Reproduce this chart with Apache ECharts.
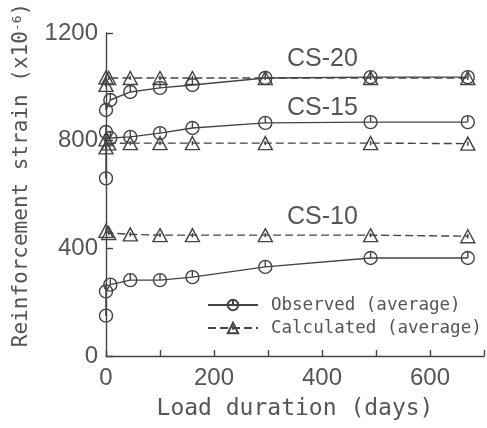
<!DOCTYPE html>
<html><head><meta charset="utf-8">
<script src="https://cdn.jsdelivr.net/npm/echarts@6/dist/echarts.min.js"></script>
<style>html,body{margin:0;padding:0;background:#fff}#c{width:487px;height:428px}</style>
</head><body><div id="c"></div>
<script>
// Data (days, strain x10^-6)
const obs10X = [0, 0, 8, 45, 100, 160, 295, 490, 670];
const obs10Y = [150, 240, 265, 282, 282, 293, 331, 364, 364];
const cal10X = [0, 5, 45, 100, 160, 295, 490, 670];
const cal10Y = [465, 457, 452, 449, 449, 449, 449, 445];
const obs15X = [0, 0, 8, 45, 100, 160, 295, 490, 670];
const obs15Y = [660, 832, 810, 814, 828, 847, 866, 869, 869];
const cal15X = [0, 0, 5, 45, 100, 160, 295, 490, 670];
const cal15Y = [775, 805, 790, 791, 791, 791, 791, 791, 789];
const obs20X = [0, 8, 45, 100, 160, 295, 490, 670];
const obs20Y = [914, 951, 981, 996, 1007, 1033, 1036, 1036];
const cal20X = [0, 0, 5, 45, 100, 160, 295, 490, 670];
const cal20Y = [1007, 1035, 1033, 1033, 1033, 1033, 1033, 1033, 1033];
const specimenLabels = ['CS-20', 'CS-15', 'CS-10'];
const xTicks = [0, 200, 400, 600];
const yTicks = [0, 400, 800, 1200];

const INK = '#444', TXT = '#555';
const obsSym = 'path://M10,0 A10,10 0 1,1 10,20 A10,10 0 1,1 10,0 Z M10,0 L10,10';
const triSym = 'path://M10,0 L20,18 L0,18 Z M10,6 L10,12';
const zip = (xs, ys) => xs.map((x, i) => [x, ys[i]]);

function obsSeries(xs, ys) {
  return { name: 'Observed (average)', type: 'line', data: zip(xs, ys),
    symbol: obsSym, symbolSize: 13, showAllSymbol: true,
    lineStyle: { color: INK, width: 1.4, type: 'solid' },
    itemStyle: { color: 'rgba(0,0,0,0)', borderColor: INK, borderWidth: 1.4 },
    emphasis: { disabled: true }, animation: false, z: 3 };
}
function calSeries(xs, ys) {
  return { name: 'Calculated (average)', type: 'line', data: zip(xs, ys),
    symbol: triSym, symbolSize: [14, 13], showAllSymbol: true,
    lineStyle: { color: INK, width: 1.4, type: [8, 4] },
    itemStyle: { color: 'rgba(0,0,0,0)', borderColor: INK, borderWidth: 1.4 },
    emphasis: { disabled: true }, animation: false, z: 2 };
}

const chart = echarts.init(document.getElementById('c'));
chart.setOption({
  backgroundColor: '#fff',
  animation: false,
  grid: { left: 106, right: 1, top: 33, bottom: 72 },
  xAxis: {
    type: 'value', min: 0, max: 700, interval: 100,
    name: 'Load duration (days)', nameLocation: 'middle', nameGap: 42,
    nameTextStyle: { fontFamily: 'DejaVu Sans Mono', fontSize: 23, color: TXT },
    axisLine: { lineStyle: { color: INK, width: 1.4 } },
    axisTick: { inside: true, length: 6, lineStyle: { color: INK, width: 1.4 } },
    axisLabel: { margin: 10, fontFamily: 'Liberation Sans', fontSize: 24, color: TXT,
      formatter: v => xTicks.includes(v) ? String(v) : '' },
    splitLine: { show: false }
  },
  yAxis: {
    type: 'value', min: 0, max: 1200, interval: 400,
    axisLine: { show: true, lineStyle: { color: INK, width: 1.4 } },
    axisTick: { show: true, inside: true, length: 7, lineStyle: { color: INK, width: 1.4 } },
    axisLabel: { margin: 8, fontFamily: 'Liberation Sans', fontSize: 24, color: TXT,
      formatter: v => yTicks.includes(v) ? String(v) : '' },
    splitLine: { show: false }
  },
  legend: {
    data: ['Observed (average)', 'Calculated (average)'],
    orient: 'vertical', left: 207, top: 296, itemWidth: 50, itemHeight: 13, itemGap: 5, padding: 0,
    textStyle: { fontFamily: 'DejaVu Sans Mono', fontSize: 17.5, color: TXT, padding: [0, 0, 0, 8] },
    selectedMode: false
  },
  graphic: [
    { type: 'text', left: 287, top: 47, style: { text: specimenLabels[0], font: '25px "Liberation Sans"', fill: TXT } },
    { type: 'text', left: 287, top: 96, style: { text: specimenLabels[1], font: '25px "Liberation Sans"', fill: TXT } },
    { type: 'text', left: 287, top: 205, style: { text: specimenLabels[2], font: '25px "Liberation Sans"', fill: TXT } },
    { type: 'text', x: 22, y: 175, rotation: Math.PI / 2,
      style: { text: 'Reinforcement strain (x10{s|-6})', fontFamily: 'DejaVu Sans Mono', fontSize: 21, fill: TXT,
        align: 'center', verticalAlign: 'middle',
        rich: { s: { fontFamily: 'DejaVu Sans Mono', fontSize: 13, fill: TXT, verticalAlign: 'top', padding: [0, 0, 8, 0] } } } }
  ],
  series: [
    obsSeries(obs20X, obs20Y), calSeries(cal20X, cal20Y),
    obsSeries(obs15X, obs15Y), calSeries(cal15X, cal15Y),
    obsSeries(obs10X, obs10Y), calSeries(cal10X, cal10Y)
  ]
});
</script>
</body></html>
